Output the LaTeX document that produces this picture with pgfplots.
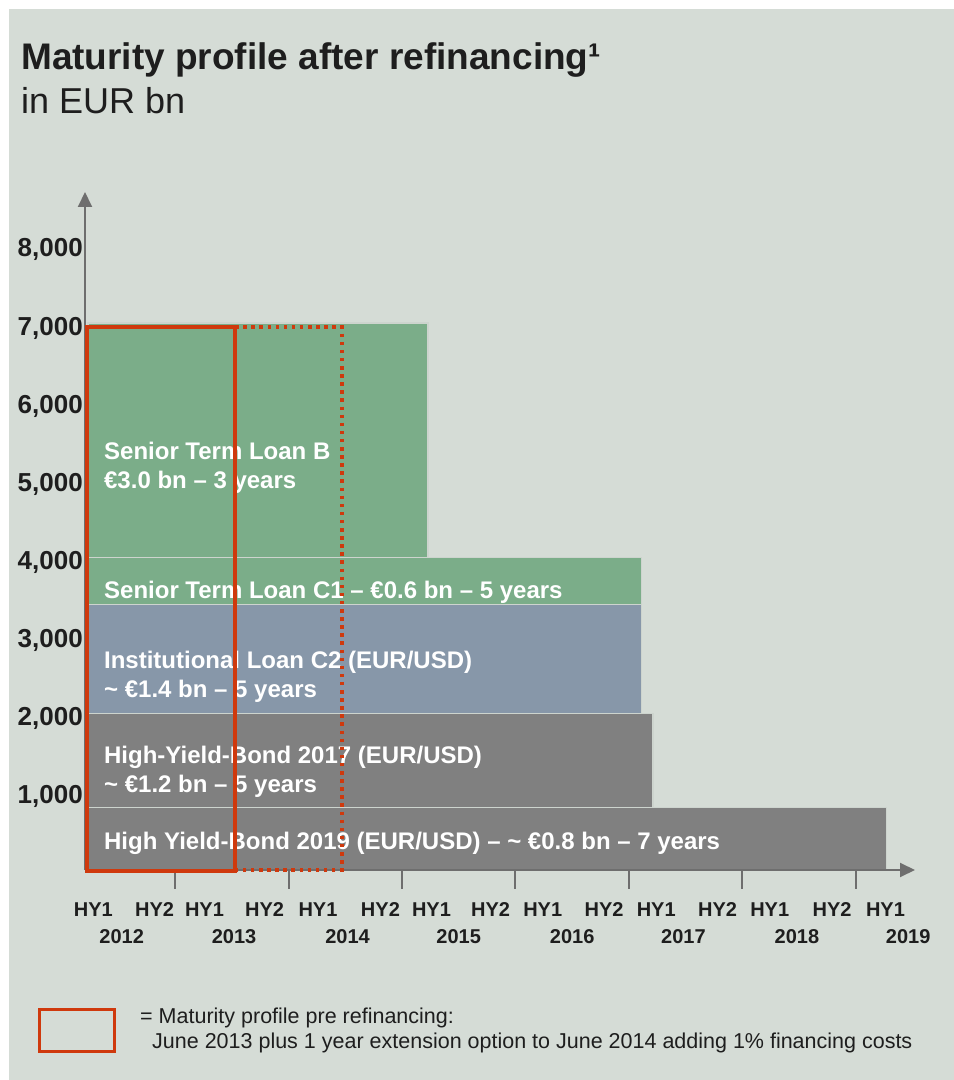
\documentclass[border=0pt]{standalone}
\usepackage{fontspec}
\setmainfont{Liberation Sans}
\usepackage{pgfplots}
\pgfplotsset{compat=1.18}
\usetikzlibrary{arrows.meta}

\definecolor{bg}{RGB}{213,220,214}
\definecolor{txt}{RGB}{30,30,30}
\definecolor{axisgray}{RGB}{110,110,110}
\definecolor{tloanb}{RGB}{123,173,137}
\definecolor{tloanc}{RGB}{135,151,169}
\definecolor{bond}{RGB}{128,128,128}
\definecolor{edge}{RGB}{205,212,206}
\definecolor{prered}{RGB}{207,57,13}

\begin{document}
\begin{tikzpicture}[x=1pt,y=1pt]
\fill[white] (0,0) rectangle (954,1080);
\fill[bg] (9,0) rectangle (954,1071);

\node[anchor=base west, inner sep=0pt, text=txt,
      font=\fontsize{37}{37}\selectfont\bfseries] at (21,1010.7)
      {Maturity profile after refinancing¹};
\node[anchor=base west, inner sep=0pt, text=txt,
      font=\fontsize{36}{36}\selectfont] at (21,966.7) {in EUR bn};

\begin{axis}[
  set layers, axis on top,
  at={(85pt,210pt)}, anchor=south west,
  scale only axis, width=830pt, height=678pt,
  xmin=2012.207, xmax=2019.52, ymin=0, ymax=8677,
  axis lines=left,
  axis line style={draw=axisgray, line width=2pt,
                   -{Triangle[width=14pt,length=15pt]}},
  clip=false,
  major tick length=0pt, minor tick length=19pt, tick align=outside,
  tick style={draw=axisgray, line width=2pt},
  minor xtick={2013,2014,2015,2016,2017,2018,2019},
  xtick={2012.53,2013.52,2014.52,2015.50,2016.50,2017.48,2018.48,2019.46},
  xticklabels={2012,2013,2014,2015,2016,2017,2018,2019},
  extra x ticks={2012.28,2012.82,2013.26,2013.79,2014.26,2014.81,2015.26,2015.78,
                 2016.24,2016.78,2017.24,2017.78,2018.24,2018.79,2019.26},
  extra x tick labels={HY1,HY2,HY1,HY2,HY1,HY2,HY1,HY2,HY1,HY2,HY1,HY2,HY1,HY2,HY1},
  extra x tick style={xticklabel style={yshift=27pt}},
  xticklabel style={anchor=center, yshift=-67pt, inner sep=0pt, text=txt,
                    font=\fontsize{20}{20}\selectfont\bfseries},
  ytick={1000,2000,3000,4000,5000,6000,7000,8000},
  yticklabel style={anchor=east, xshift=-2pt, yshift=-5pt, inner sep=0pt, text=txt,
                    font=\fontsize{26}{26}\selectfont\bfseries},
  /pgf/number format/assume math mode=true,
  /pgf/number format/1000 sep={,},
]
% stacked maturities (EUR m): bottom to top
\addplot[fill=bond, draw=edge, line width=1.5pt]
  coordinates {(2012.233,0) (2019.27,0) (2019.27,800) (2012.233,800)} -- cycle;
\addplot[fill=bond, draw=edge, line width=1.5pt]
  coordinates {(2012.233,800) (2017.21,800) (2017.21,2000) (2012.233,2000)} -- cycle;
\addplot[fill=tloanc, draw=edge, line width=1.5pt]
  coordinates {(2012.233,2000) (2017.11,2000) (2017.11,3400) (2012.233,3400)} -- cycle;
\addplot[fill=tloanb, draw=edge, line width=1.5pt]
  coordinates {(2012.233,3400) (2017.11,3400) (2017.11,4000) (2012.233,4000)} -- cycle;
\addplot[fill=tloanb, draw=edge, line width=1.5pt]
  coordinates {(2012.233,4000) (2015.23,4000) (2015.23,7000) (2012.233,7000)} -- cycle;

% pre-refinancing profile: June 2013 plus extension to June 2014
\addplot[on layer=axis foreground, draw=prered, line width=3.5pt]
  coordinates {(2012.225,-10) (2013.53,-10) (2013.53,6950) (2012.225,6950)} -- cycle;
\addplot[on layer=axis foreground, draw=prered, line width=3.5pt,
         dash pattern=on 3.5pt off 4.6pt]
  coordinates {(2013.53,6950) (2014.47,6950) (2014.47,0) (2013.53,0)};

\begin{scope}[every node/.style={anchor=west, align=left, inner sep=0pt, text=white,
              font=\fontsize{24}{29}\selectfont\bfseries}]
\node at (axis cs:2012.374,5151) {Senior Term Loan B\\€3.0 bn – 3 years};
\node at (axis cs:2012.374,3558) {Senior Term Loan C1 – €0.6 bn – 5 years};
\node at (axis cs:2012.374,2476) {Institutional Loan C2 (EUR/USD)\\\textasciitilde{} €1.4 bn – 5 years};
\node at (axis cs:2012.374,1261) {High-Yield-Bond 2017 (EUR/USD)\\\textasciitilde{} €1.2 bn – 5 years};
\node at (axis cs:2012.374,346) {High Yield-Bond 2019 (EUR/USD) – \textasciitilde{} €0.8 bn – 7 years};
\end{scope}
\end{axis}

% key
\draw[prered, line width=3pt] (39.5,28.5) rectangle (114.5,70.5);
\node[anchor=west, inner sep=0pt, text=txt, font=\fontsize{21.5}{21.5}\selectfont]
  at (140,62) {= Maturity profile pre refinancing:};
\node[anchor=west, inner sep=0pt, text=txt, font=\fontsize{21.5}{21.5}\selectfont]
  at (152,37) {June 2013 plus 1 year extension option to June 2014 adding 1\% financing costs};
\end{tikzpicture}
\end{document}
